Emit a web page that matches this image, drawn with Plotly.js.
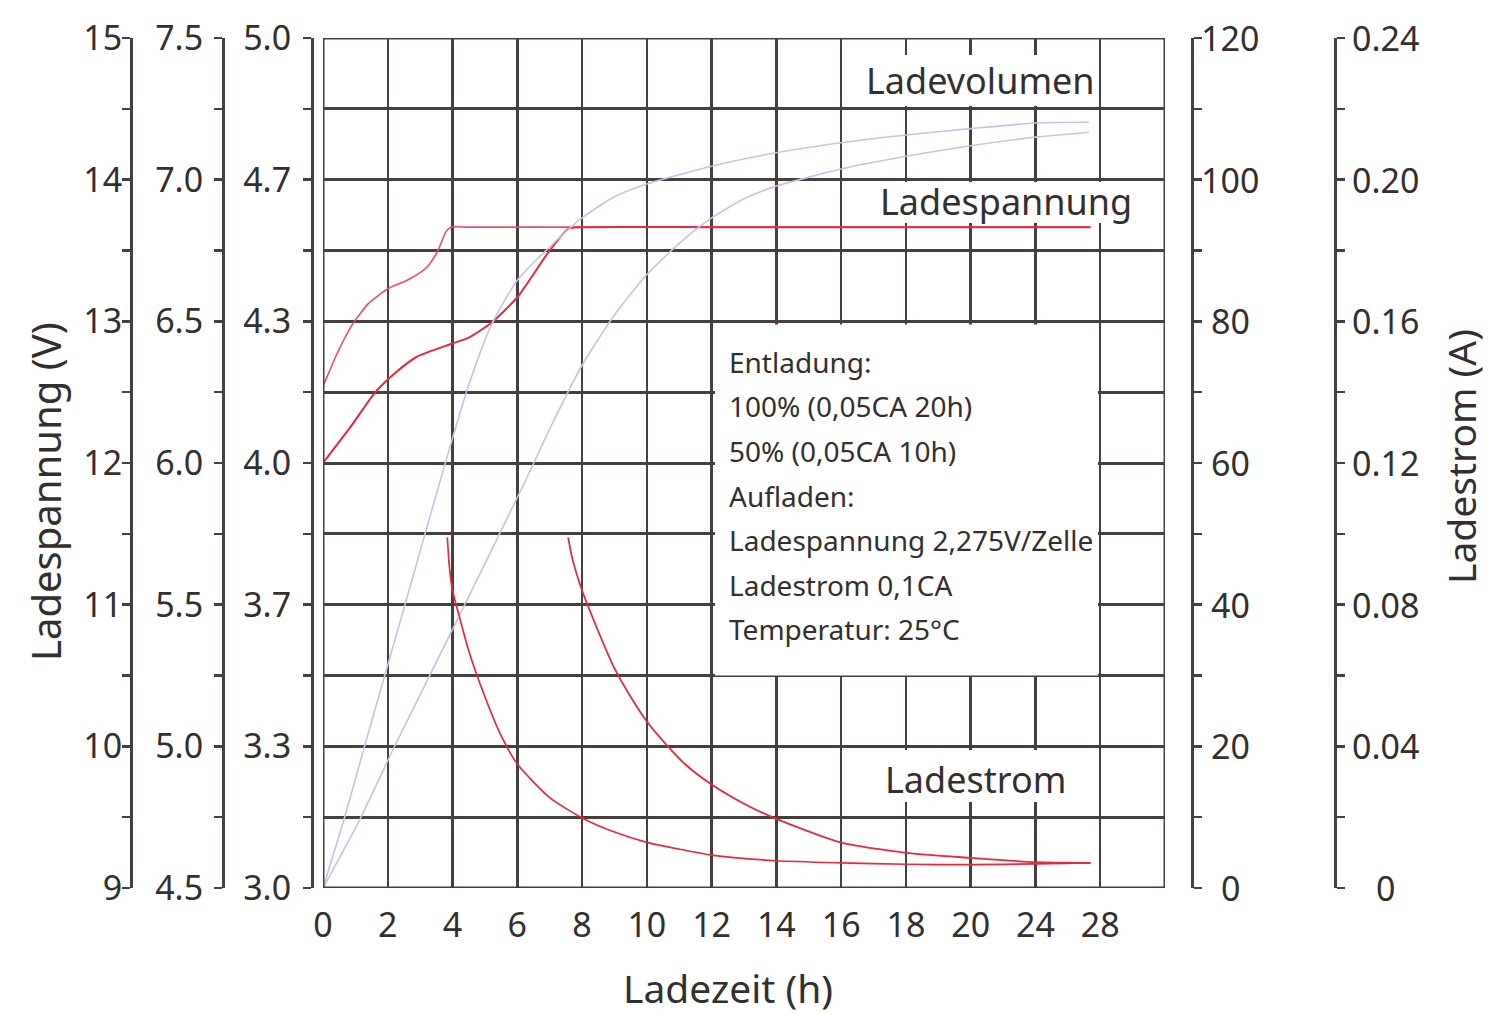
<!DOCTYPE html>
<html>
<head>
<meta charset="utf-8">
<script src="https://cdn.plot.ly/plotly-3.0.1.min.js"></script>
<style>html,body{margin:0;padding:0;background:#fff;}#chart{width:1488px;height:1015px;}</style>
</head>
<body>
<div id="chart"></div>
<script>
// ---- Data (hours on x; values in axis units) ----
const xTickHours = [0, 2, 4, 6, 8, 10, 12, 14, 16, 18, 20, 24, 28];

// Ladespannung (V, 2-cell scale 3.0–5.0)
const volt50_h  = [0, 0.45, 0.9, 1.4, 2.0, 2.6, 3.2, 3.55, 3.8, 3.95, 4.5, 8, 27.4];
const volt50_v  = [4.18, 4.26, 4.325, 4.375, 4.41, 4.43, 4.46, 4.50, 4.545, 4.555, 4.555, 4.555, 4.555];
const volt100_h = [0, 0.85, 1.6, 2.2, 2.9, 3.95, 4.5, 5.2, 6.0, 7.0, 7.6, 8.2, 12, 27.4];
const volt100_v = [4.0, 4.085, 4.165, 4.21, 4.25, 4.28, 4.295, 4.33, 4.39, 4.50, 4.552, 4.555, 4.555, 4.555];

// Ladestrom (A)
const cur50_h  = [3.84, 3.9, 4.0, 4.2, 4.5, 5.0, 5.5, 6.0, 7.0, 8.0, 9.0, 10.0, 12, 14, 16, 18, 20, 24, 27.4];
const cur50_i  = [0.099, 0.091, 0.084, 0.077, 0.067, 0.054, 0.043, 0.035, 0.0255, 0.0198, 0.0158, 0.0129, 0.0093, 0.0077, 0.0071, 0.0067, 0.0066, 0.0068, 0.0071];
const cur100_h = [7.57, 7.7, 8.0, 8.5, 9.0, 9.5, 10.0, 10.6, 11.2, 12, 13, 14, 16, 18, 20, 24, 27.4];
const cur100_i = [0.099, 0.093, 0.084, 0.0725, 0.062, 0.054, 0.047, 0.0405, 0.0348, 0.0292, 0.0238, 0.0195, 0.0128, 0.0099, 0.0085, 0.0073, 0.0071];

// Ladevolumen (%)
const vol50_h  = [0, 0.65, 1.27, 2.5, 3.4, 4.0, 4.5, 5.2, 6.0, 7.0, 8.0, 9.0, 10.0, 12.0, 14, 16, 18, 20, 24, 27.3];
const vol50_q  = [0, 9.7, 19.8, 39.5, 54, 63.5, 71, 79.5, 85.8, 90.5, 94.6, 97.6, 99.4, 101.9, 103.8, 105.2, 106.3, 107.2, 108.0, 108.1];
const vol100_h = [0, 1.14, 2.19, 4.0, 6.2, 7.0, 8.0, 9.0, 10.0, 11.0, 12.0, 13.0, 14.0, 16, 18, 20, 24, 27.3];
const vol100_q = [0, 9.7, 19.8, 36.5, 57.0, 64.8, 73.8, 80.9, 86.6, 91.0, 94.6, 97.3, 99.1, 101.5, 103.3, 104.8, 106.0, 106.7];

// Axis tick labels
const yV2Labels  = ['3.0', '3.3', '3.7', '4.0', '4.3', '4.7', '5.0'];
const yV6Labels  = ['4.5', '5.0', '5.5', '6.0', '6.5', '7.0', '7.5'];
const yV12Labels = ['9', '10', '11', '12', '13', '14', '15'];
const yVolLabels = ['0', '20', '40', '60', '80', '100', '120'];
const yCurLabels = ['0', '0.04', '0.08', '0.12', '0.16', '0.20', '0.24'];

// ---- Helpers ----
// The time axis is piecewise: 2 h per grid cell up to 20 h, then 4 h per cell.
function hToPos(h) { return h <= 20 ? h / 2 : 10 + (h - 20) / 4; }
const W = 1488, H = 1015;
const px = x => x / W;
const py = y => 1 - y / H;
// pixel -> main-axis coordinates (for background boxes)
const toP = x => (x - 323) * 13 / 842;
const toV = y => 5 - (y - 38) / 425;

const GRID = '#463f3f';
const TXT = '#332f2f';
const FONT = 'Noto Sans';

function yTicks(min, max, labels, blank) {
  const vals = [], text = [];
  for (let k = 0; k <= 12; k++) {
    vals.push(min + (max - min) * k / 12);
    text.push(!blank && k % 2 === 0 ? labels[k / 2] : '');
  }
  return {vals, text};
}
function yAxis(min, max, labels, pos, side, extra, blank) {
  const t = yTicks(min, max, labels, blank);
  return Object.assign({
    domain: [py(888), py(38)], range: [min, max], anchor: 'free', position: pos, side: side,
    tickvals: t.vals, ticktext: t.text, tickmode: 'array',
    showline: true, linecolor: GRID, linewidth: 2.5,
    ticks: 'outside', ticklen: 8, tickwidth: 2.5, tickcolor: GRID,
    showgrid: false, zeroline: false, fixedrange: true,
    tickfont: {family: FONT, size: 34, color: TXT}
  }, extra || {});
}

const xPos = [], xText = [];
for (let i = 0; i <= 13; i++) { xPos.push(i); xText.push(i < xTickHours.length ? String(xTickHours[i]) : ''); }

const RED = '#e8283c', RED2 = '#f04a62', LAV = '#c8c1e8';
const traces = [
  {x: [], y: [], yaxis: 'y2', mode: 'lines'},
  {x: [], y: [], yaxis: 'y3', mode: 'lines'},
  {x: vol50_h.map(hToPos),  y: vol50_q,  yaxis: 'y4', mode: 'lines', line: {color: LAV, width: 1.6, shape: 'spline', smoothing: 0.6}},
  {x: vol100_h.map(hToPos), y: vol100_q, yaxis: 'y4', mode: 'lines', line: {color: LAV, width: 1.6, shape: 'spline', smoothing: 0.6}},
  {x: volt50_h.map(hToPos),  y: volt50_v,  yaxis: 'y', mode: 'lines', line: {color: RED2, width: 1.6, shape: 'spline', smoothing: 0.6}},
  {x: volt100_h.map(hToPos), y: volt100_v, yaxis: 'y', mode: 'lines', line: {color: RED, width: 2, shape: 'spline', smoothing: 0.6}},
  {x: cur50_h.map(hToPos),  y: cur50_i,  yaxis: 'y5', mode: 'lines', line: {color: RED, width: 1.7, shape: 'spline', smoothing: 0.6}},
  {x: cur100_h.map(hToPos), y: cur100_i, yaxis: 'y5', mode: 'lines', line: {color: RED, width: 1.8, shape: 'spline', smoothing: 0.6}}
];
traces.forEach(t => { t.xaxis = 'x'; t.hoverinfo = 'skip'; t.showlegend = false; });

function whiteBox(x0, x1, y0, y1) {
  return {type: 'rect', xref: 'x', yref: 'y', x0: toP(x0), x1: toP(x1), y0: toV(y1), y1: toV(y0),
          fillcolor: '#ffffff', line: {width: 0}, layer: 'between'};
}

const shapes = [
  whiteBox(715, 1098, 324.5, 675.5),
  whiteBox(860, 1097, 55, 106),
  whiteBox(874, 1140, 182, 223),
  whiteBox(878, 1072, 750, 802),
  {type: 'rect', xref: 'x', yref: 'y', x0: 0, x1: 13, y0: 3, y1: 5, line: {color: GRID, width: 3}, layer: 'above'}
];

function ann(text, x, y, size, opts) {
  return Object.assign({text: text, xref: 'paper', yref: 'paper', x: px(x), y: py(y), showarrow: false,
    xanchor: 'center', yanchor: 'middle', font: {family: FONT, size: size, color: TXT}}, opts || {});
}
const boxLines = ['Entladung:', '100% (0,05CA 20h)', '50% (0,05CA 10h)', 'Aufladen:',
                  'Ladespannung 2,275V/Zelle', 'Ladestrom 0,1CA', 'Temperatur: 25°C'];
const boxY = [362, 406, 451, 496, 540, 585, 629];
const annotations = [
  ann('Ladevolumen', 980, 80, 36),
  ann('Ladespannung', 1006, 201, 36),
  ann('Ladestrom', 975, 779, 36),
  ann('Ladespannung (V)', 45, 492, 40, {textangle: -90}),
  ann('Ladestrom (A)', 1460, 457, 39, {textangle: -90}),
  ann('Ladezeit (h)', 728, 987, 39)
];
boxLines.forEach((t, i) => annotations.push(ann(t, 727, boxY[i], 28, {xanchor: 'left'})));
// Right-hand tick labels are centred in the reference: place them on their own axes.
yVolLabels.forEach((t, i) => annotations.push({text: t, xref: 'paper', yref: 'y4', x: px(1230), y: i * 20,
  showarrow: false, xanchor: 'center', yanchor: 'middle', font: {family: FONT, size: 34, color: TXT}}));
yCurLabels.forEach((t, i) => annotations.push({text: t, xref: 'paper', yref: 'y5', x: px(1385), y: i * 0.04,
  showarrow: false, xanchor: 'center', yanchor: 'middle', font: {family: FONT, size: 34, color: TXT}}));

const layout = {
  width: W, height: H, margin: {l: 0, r: 0, t: 0, b: 0},
  paper_bgcolor: '#ffffff', plot_bgcolor: '#ffffff', showlegend: false,
  font: {family: FONT, color: TXT},
  xaxis: {
    domain: [px(323), px(1165)], range: [0, 13], tickmode: 'array', tickvals: xPos, ticktext: xText,
    showgrid: true, gridcolor: GRID, gridwidth: 2.5, zeroline: false, showline: false, ticks: '',
    ticklabelstandoff: 14, fixedrange: true, anchor: 'y',
    tickfont: {family: FONT, size: 34, color: TXT}
  },
  yaxis:  yAxis(3, 5, yV2Labels, px(312), 'left', {showgrid: true, gridcolor: GRID, gridwidth: 3, ticklabelstandoff: 5}),
  yaxis2: yAxis(4.5, 7.5, yV6Labels, px(223), 'left', {overlaying: 'y', ticklabelstandoff: 4}),
  yaxis3: yAxis(9, 15, yV12Labels, px(131), 'left', {overlaying: 'y', ticklabelstandoff: -7}),
  yaxis4: yAxis(0, 120, yVolLabels, px(1192), 'right', {overlaying: 'y'}, true),
  yaxis5: yAxis(0, 0.24, yCurLabels, px(1335), 'right', {overlaying: 'y'}, true),
  shapes: shapes,
  annotations: annotations
};

Plotly.newPlot('chart', traces, layout, {staticPlot: true, displayModeBar: false});
</script>
</body>
</html>
